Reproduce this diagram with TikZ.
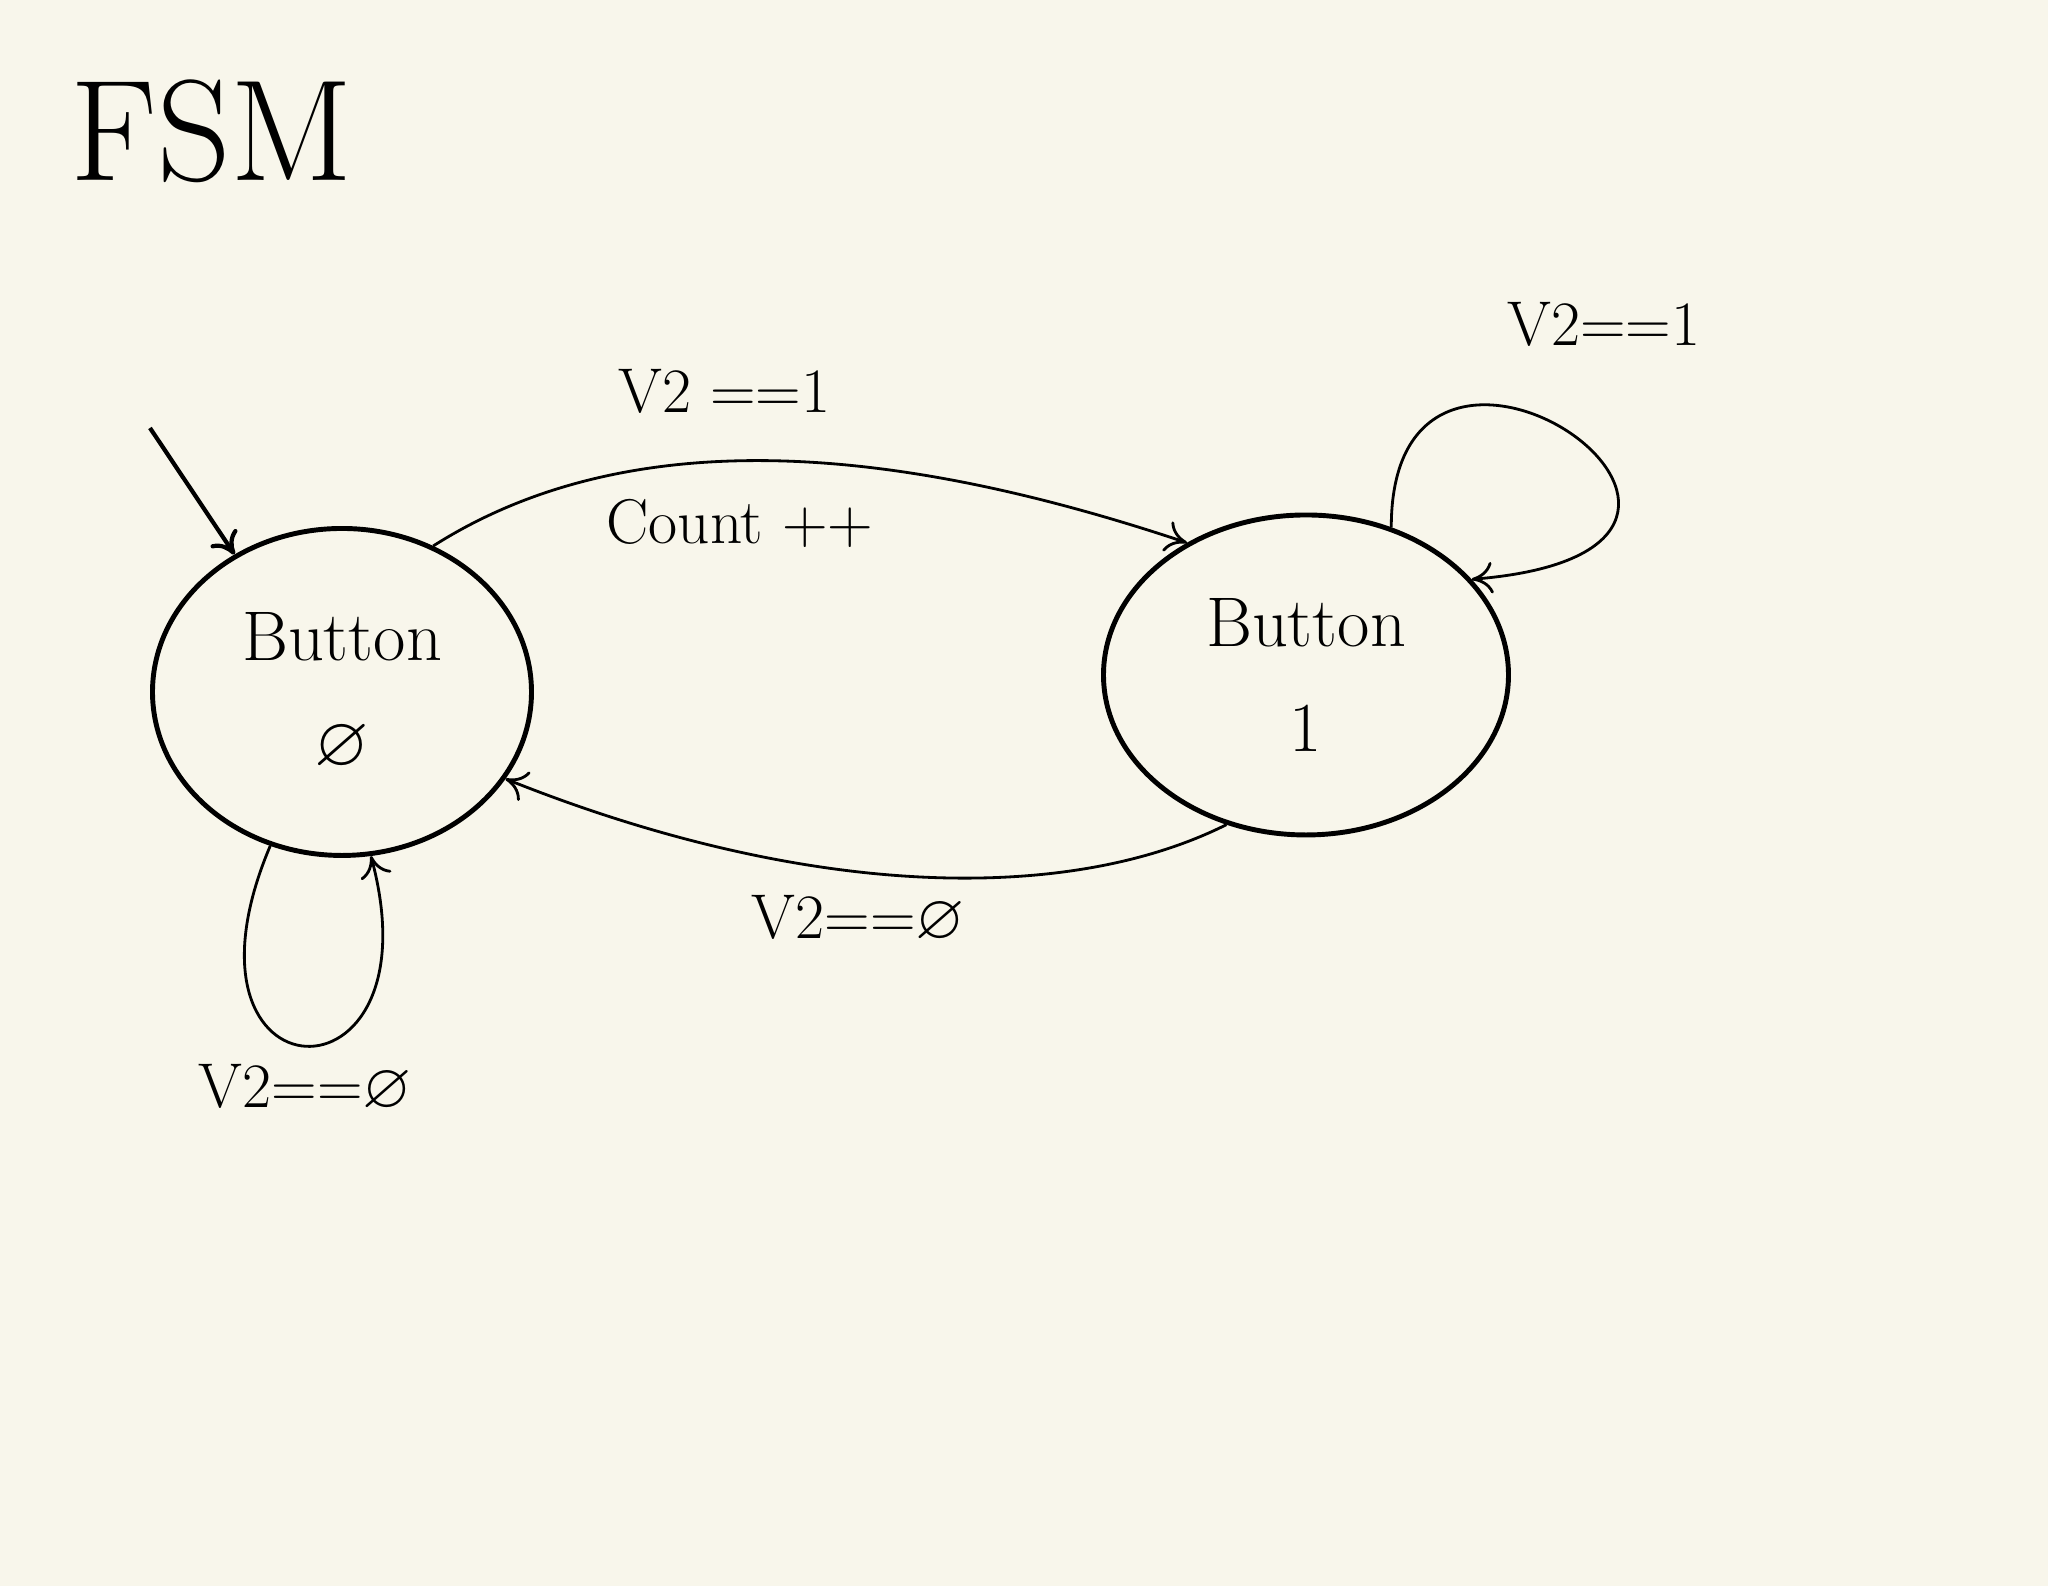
\documentclass[tikz,border=0pt]{standalone}
\usepackage{amssymb}
\usetikzlibrary{shapes.geometric,arrows.meta,positioning}
\definecolor{paper}{HTML}{F8F6EB}
\tikzset{
  state/.style={draw, ellipse, line width=1.4pt, font=\fontsize{20}{30}\selectfont, align=center, inner sep=0pt},
  trans/.style={line width=0.8pt, -{To[length=6pt,width=9pt]}},
  lbl/.style={font=\fontsize{18}{20}\selectfont}
}
\begin{document}
\begin{tikzpicture}
  \fill[paper] (0,0) rectangle (20.48,15.86);
  \useasboundingbox (0,0) rectangle (20.48,15.86);

  \node (title) at (2.12,14.55) {\fontsize{41}{46}\selectfont FSM};

  \node[state, minimum width=3.79cm, minimum height=3.27cm] (b0) at (3.42,8.94) {Button\\$\varnothing$};
  \node[state, minimum width=4.05cm, minimum height=3.20cm] (b1) at (13.06,9.11) {Button\\1};

  \coordinate (init) at (1.50,11.58);
  \draw[trans, line width=1.2pt] (init) -- (b0.128);

  \draw[trans] (b0.58) .. controls +(2.2,1.4) and +(-2.4,0.8) .. (b1.132)
    node[lbl, pos=0.4, above=0.35cm] (up) {V2 ==1}
    node[lbl, pos=0.42, below=0.25cm] (cnt) {Count ++};
  \draw[trans] (b1.-118) .. controls +(-1.6,-0.8) and +(3.0,-1.2) .. (b0.-28)
    node[lbl, pos=0.58, below=0.1cm] (down) {V2==$\varnothing$};

  \draw[trans] (b1.60) .. controls +(0,2.9) and +(3.7,0.3) .. (b1.30);
  \node[lbl] (loop1) at (16.04,12.62) {V2==1};
  \draw[trans] (b0.-115) .. controls +(-1.1,-2.6) and +(0.7,-2.6) .. (b0.-80)
    node[lbl, pos=0.5, below=0.05cm] (loop0) {V2==$\varnothing$};
\end{tikzpicture}
\end{document}
